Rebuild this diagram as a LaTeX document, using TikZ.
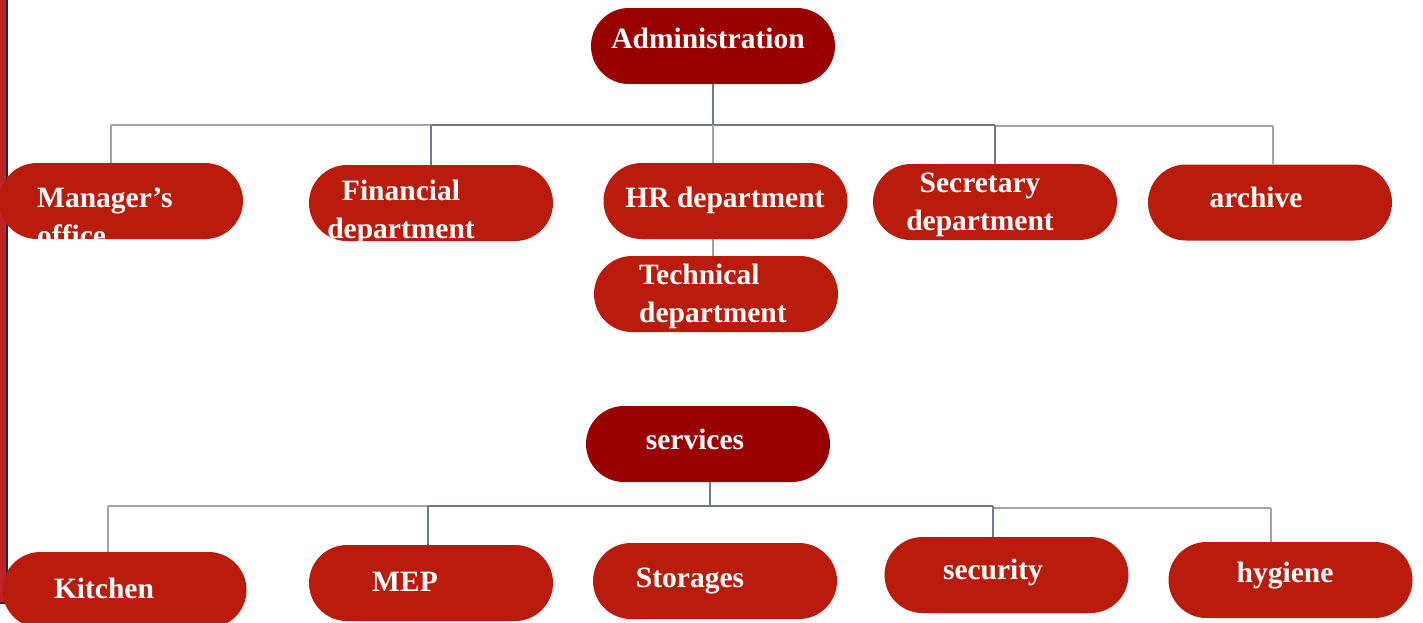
\documentclass[tikz,border=0pt]{standalone}
\usepackage{fontspec}
\setmainfont{Liberation Serif}
\definecolor{headred}{HTML}{990000}
\definecolor{subred}{HTML}{B91C0C}
\definecolor{linebg}{HTML}{6E7B8B}
\definecolor{linegr}{HTML}{A3A3A3}
\definecolor{barred}{HTML}{C0222B}
\definecolor{bardark}{HTML}{1C2B36}
\begin{document}
\begin{tikzpicture}[x=1pt,y=-1pt,
  box/.style={rectangle, rounded corners=38pt, minimum width=244pt, minimum height=76pt, inner sep=0pt},
  headbox/.style={box, fill=headred},
  subbox/.style={box, fill=subred},
  lbl/.style={text=white, font=\fontsize{29.5}{38}\selectfont\bfseries, inner sep=0pt, align=center},
  lbll/.style={lbl, align=left},
  blueline/.style={draw=linebg, line width=2pt},
  greyline/.style={draw=linegr, line width=1.6pt}]
\useasboundingbox (0,0) rectangle (1423,622);
\fill[white] (0,0) rectangle (1423,622);
% left bar
\fill[bardark] (0,0) rectangle (7.5,604);
\fill[barred] (0,0) rectangle (5.5,602);

% junction coordinates (top)
\coordinate (t0) at (713,125);
\coordinate (t1) at (111,125);
\coordinate (t2) at (431,125);
\coordinate (t4) at (995,125);
\coordinate (t4b) at (995,126);
\coordinate (t5) at (1273,126);
% junction coordinates (bottom)
\coordinate (b0) at (710,506);
\coordinate (b1) at (108,506);
\coordinate (b2) at (428,506);
\coordinate (b4) at (993,506);
\coordinate (b4b) at (993,508);
\coordinate (b5) at (1271,508);

% boxes
\node[headbox] (admin) at (713,46) {};
\node[subbox] (mgr) at (121,201) {};
\node[subbox] (fin) at (431,203) {};
\node[subbox] (hr) at (725.5,201) {};
\node[subbox] (tech) at (716,294) {};
\node[subbox] (secd) at (995,202) {};
\node[subbox] (arch) at (1270,202.5) {};
\node[headbox] (serv) at (708,444) {};
\node[subbox] (kit) at (124.5,590) {};
\node[subbox] (mep) at (431,583) {};
\node[subbox] (stor) at (715,581) {};
\node[subbox] (secu) at (1006.5,575) {};
\node[subbox] (hyg) at (1290.5,580) {};

% connectors top
\draw[blueline] (admin.south -| t0) -- (t0);
\draw[greyline] (t1) -- (t2);
\draw[blueline] (t2) -- (t4);
\draw[greyline] (t4b) -- (t5);
\draw[greyline] (t1) -- (t1 |- mgr.north);
\draw[blueline] (t2) -- (t2 |- fin.north);
\draw[greyline] (t0) -- (t0 |- hr.north);
\draw[blueline] (t4) -- (t4 |- secd.north);
\draw[greyline] (t5) -- (t5 |- arch.north);
\draw[greyline] (hr.south -| t0) -- (tech.north -| t0);
% connectors bottom
\draw[blueline] (serv.south -| b0) -- (b0);
\draw[greyline] (b1) -- (b2);
\draw[blueline] (b2) -- (b4);
\draw[greyline] (b4b) -- (b5);
\draw[greyline] (b1) -- (b1 |- kit.north);
\draw[blueline] (b2) -- (b2 |- mep.north);
\draw[blueline] (b4) -- (b4 |- secu.north);
\draw[greyline] (b5) -- (b5 |- hyg.north);

% labels
\node[lbl, anchor=base] (adminl) at (708,48) {Administration};
\node[lbll, anchor=west] (mgrl) at (37,217) {Manager’s\\office};
\node[lbl] (finl) at (401,212) {Financial\\department};
\node[lbl, anchor=base] (hrl) at (725,207) {HR department};
\node[lbll, anchor=west] (techl) at (639,296) {Technical\\department};
\node[lbl] (secdl) at (980,205) {Secretary\\department};
\node[lbl, anchor=base] (archl) at (1256,207) {archive};
\node[lbl, anchor=base] (servl) at (695,449) {services};
\node[lbl, anchor=base] (kitl) at (104,598) {Kitchen};
\node[lbl, anchor=base] (mepl) at (405,591) {MEP};
\node[lbl, anchor=base] (storl) at (690,587) {Storages};
\node[lbl, anchor=base] (secul) at (993,579) {security};
\node[lbl, anchor=base] (hygl) at (1285,582) {hygiene};
\end{tikzpicture}
\end{document}
